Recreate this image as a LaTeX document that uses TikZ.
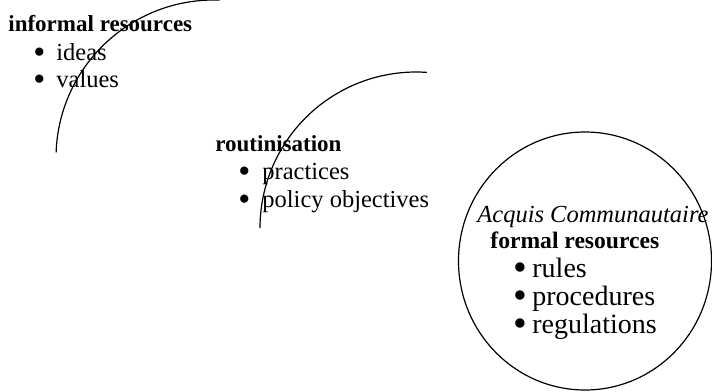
\documentclass[tikz,border=0pt]{standalone}
\usepackage{fontspec}
\setmainfont{Liberation Serif}
\usepackage{tikz}
\usetikzlibrary{positioning}

\newcommand{\bul}[2]{\makebox[#1][l]{\smash{\raisebox{-0.13em}{\scalebox{1.4}{\textbullet}}}}#2}

\tikzset{
    head/.style={anchor=base west, inner sep=0pt, font=\fontsize{11.5}{13}\selectfont\bfseries},
    entry/.style={anchor=base west, inner sep=0pt, font=\fontsize{12.25}{14}\selectfont},
    bigentry/.style={anchor=base west, inner sep=0pt, font=\fontsize{14}{16}\selectfont},
    ring/.style={line width=0.6pt}
}

\begin{document}
\begin{tikzpicture}[x=0.5pt, y=-0.5pt]
    \useasboundingbox (0, 0) rectangle (712, 391);

    % the three rings
    \coordinate (cinf) at (214, 158);
    \coordinate (crou) at (416, 228);
    \coordinate (cform) at (585, 261);
    \draw[ring] (cinf) ++(182:158) arc[start angle=182, end angle=272, radius=158];
    \draw[ring] (crou) ++(180:156) arc[start angle=180, end angle=274, radius=156];
    \draw[ring] (cform) ellipse [x radius=126.5, y radius=129];

    % informal resources
    \node[head] (infhead) at (8, 32) {informal resources};
    \node[entry] (ideas) at (33, 60) {\bul{11.5pt}{ideas}};
    \node[entry] (values) at (33, 87) {\bul{11.5pt}{values}};

    % routinisation
    \node[head] (rouhead) at (215, 151) {routinisation};
    \node[entry] (practices) at (238, 179) {\bul{12pt}{practices}};
    \node[entry] (policy) at (238, 207) {\bul{12pt}{policy objectives}};

    % formal resources
    \node[entry, font=\fontsize{12.25}{14}\selectfont\itshape] (acquis) at (477, 222) {Acquis Communautaire};
    \node[head, font=\fontsize{11.8}{13}\selectfont\bfseries] (formhead) at (490, 248) {formal resources};
    \node[bigentry] (rules) at (513, 277) {\bul{9.5pt}{rules}};
    \node[bigentry] (procedures) at (513, 305) {\bul{9.5pt}{procedures}};
    \node[bigentry] (regulations) at (513, 333) {\bul{9.5pt}{regulations}};
\end{tikzpicture}
\end{document}
